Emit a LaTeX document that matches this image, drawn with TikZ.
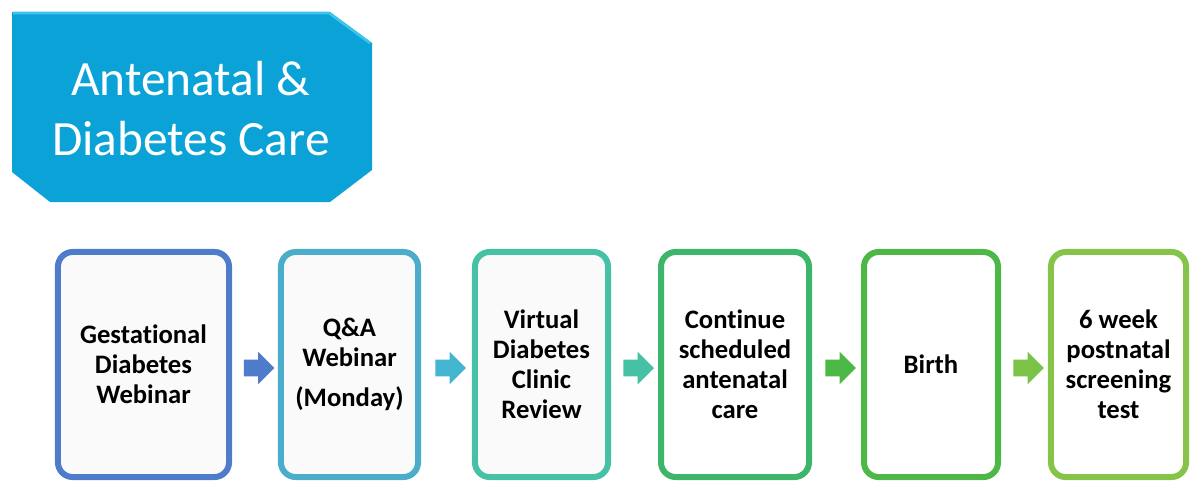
\documentclass[tikz,border=0pt]{standalone}
\usepackage{fontspec}
\setmainfont{Carlito}[Ligatures=CommonOff]
\usetikzlibrary{shapes.arrows,calc}
\definecolor{hdrBlue}{HTML}{0BA3D7}
\definecolor{hdrTop}{HTML}{3CC4EC}
\definecolor{stepA}{HTML}{4F7BCB}
\definecolor{stepB}{HTML}{4BADC9}
\definecolor{stepC}{HTML}{46C1A5}
\definecolor{stepD}{HTML}{3DB56B}
\definecolor{stepE}{HTML}{4DB848}
\definecolor{stepF}{HTML}{86C449}

\begin{document}
\begin{tikzpicture}[x=0.75pt,y=-0.75pt,
  stage/.style={draw,line width=4.5pt,rounded corners=11pt,minimum height=168.8pt,
    align=center,inner sep=2pt,font=\fontsize{20}{22.5}\selectfont\bfseries},
  nxt/.style={single arrow,draw=none,minimum height=23pt,inner xsep=0pt,
    inner ysep=6pt,single arrow head extend=6pt}]
\useasboundingbox (0,0) rectangle (1192,487);
% header
\fill[hdrBlue] (12,12) -- (330,12) -- (372,43) -- (372,170) -- (330,202) -- (50,202) -- (12,172) -- cycle;
\draw[hdrTop,line width=2pt] (13,13) -- (329,13) -- (370,43);
\node[text=white,align=center,font=\fontsize{37}{45}\selectfont] (title) at (191,109) {Antenatal \&\\Diabetes Care};
% steps
\node[stage,draw=stepA,fill=gray!4,minimum width=128.3pt] (s1) at (143.5,364.5) {Gestational\\Diabetes\\Webinar};
\node[stage,draw=stepB,fill=gray!4,minimum width=102.8pt] (s2) at (349.5,364.5) {Q\&A\\Webinar\\[7.5pt](Monday)};
\node[stage,draw=stepC,fill=gray!4,minimum width=99.8pt] (s3) at (541.5,364.5) {Virtual\\Diabetes\\Clinic\\Review};
\node[stage,draw=stepD,fill=white,minimum width=111pt] (s4) at (735,364.5) {Continue\\scheduled\\antenatal\\care};
\node[stage,draw=stepE,fill=white,minimum width=100.5pt] (s5) at (931,364.5) {Birth};
\node[stage,draw=stepF,fill=white,minimum width=101.3pt] (s6) at (1118.5,364.5) {6 week\\postnatal\\screening\\test};
% arrows between steps
\node[nxt,fill=stepA] (a1) at ($(s1.east)!0.5!(s2.west)+(0,3.5)$) {};
\node[nxt,fill=stepB!90!cyan] (a2) at ($(s2.east)!0.5!(s3.west)+(0,3.5)$) {};
\node[nxt,fill=stepC] (a3) at ($(s3.east)!0.5!(s4.west)+(0,3.5)$) {};
\node[nxt,fill=stepE] (a4) at ($(s4.east)!0.5!(s5.west)+(0,3.5)$) {};
\node[nxt,fill=stepF!80!stepE] (a5) at ($(s5.east)!0.5!(s6.west)+(0,3.5)$) {};
\end{tikzpicture}
\end{document}
